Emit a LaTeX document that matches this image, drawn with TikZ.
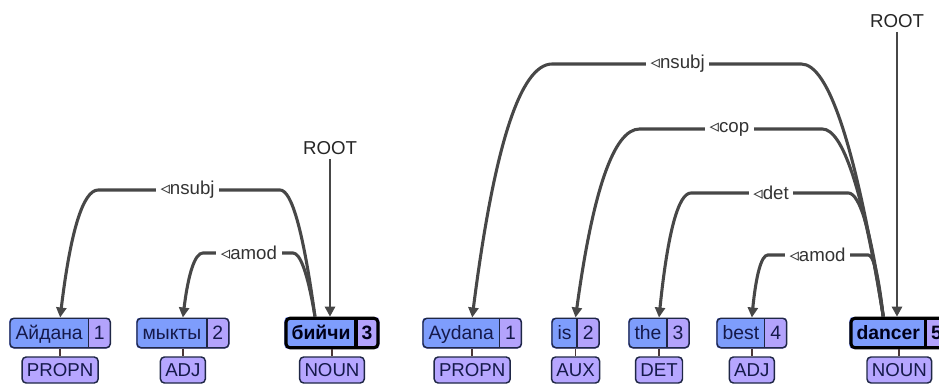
\documentclass[tikz,border=0pt]{standalone}
\usepackage{fontspec}
\setmainfont{Liberation Sans}
\newfontfamily\symfont{DejaVu Sans}
\usetikzlibrary{fit,calc,arrows.meta}

\definecolor{wordfill}{HTML}{7E9DFC}
\definecolor{numfill}{HTML}{B3A3FC}
\definecolor{posfill}{HTML}{B6A6FF}
\definecolor{framecol}{HTML}{1F2746}
\definecolor{inktext}{HTML}{15194A}
\definecolor{arcgray}{HTML}{474747}
\definecolor{stemcol}{HTML}{4B3838}

\pgfdeclarelayer{canvas}
\pgfdeclarelayer{fills}
\pgfsetlayers{canvas,fills,main}

\newcommand\lefttri{{\symfont ◃}}

\tikzset{
  x=0.75pt, y=-0.75pt,
  every node/.style={font=\fontsize{14}{16}\selectfont},
  tokpart/.style={font=\fontsize{14.5}{17}\selectfont, inner xsep=4pt, inner ysep=0pt,
    minimum height=21.75pt, text height=10.4pt, text depth=0pt, text=inktext},
  plaintok/.style={},
  roottok/.style={font=\fontsize{14.5}{17}\selectfont\bfseries, text=black!90!blue},
  plainframe/.style={draw=framecol, line width=1.1pt},
  rootframe/.style={draw=black, line width=2.3pt},
  tokframe/.style={rounded corners=3pt, inner sep=0pt},
  posbox/.style={draw=framecol, line width=1.1pt, fill=posfill, rounded corners=3pt,
    inner xsep=3.6pt, inner ysep=0pt, minimum height=19.5pt,
    text height=10pt, text depth=0pt, text=inktext},
  stem/.style={draw=stemcol, line width=1.3pt},
  deparc/.style={draw=arcgray, line width=2.3pt, -{Triangle[length=7.5pt,width=7.5pt]}},
  deplabel/.style={fill=white, inner xsep=3.5pt, inner ysep=1pt, text=black!80},
  rootlabel/.style={inner sep=3pt, text=black!85},
  rootline/.style={draw=arcgray, line width=2.1pt, -{Triangle[length=7.5pt,width=7.5pt]}},
}

% token box: #1 name, #2 left edge, #3 word, #4 index, #5 text style, #6 frame style
\newcommand\tok[6]{%
  \node[tokpart,#5,anchor=west] (#1w) at (#2,333) {#3};
  \node[tokpart,#5,anchor=west] (#1n) at (#1w.east) {#4};
  \node[tokframe,#6,fit=(#1w)(#1n)] (#1) {};
  \begin{pgfonlayer}{fills}
    \begin{scope}
      \clip[rounded corners=3pt] (#1.north west) rectangle (#1.south east);
      \fill[numfill] (#1.north west) rectangle (#1.south east);
      \fill[wordfill] (#1.north west) rectangle (#1w.south east);
    \end{scope}
  \end{pgfonlayer}
  \draw[#6] (#1n.north west) -- (#1n.south west);
}

\begin{document}
\begin{tikzpicture}
\begin{pgfonlayer}{canvas}
  \fill[white] (0,0) rectangle (939,385);
\end{pgfonlayer}
\useasboundingbox (0,0) rectangle (939,385);

\coordinate (posrow) at (0,370);

% Kyrgyz sentence
\tok{t1}{10}{Айдана}{1}{plaintok}{plainframe}
\tok{t2}{137}{мыкты}{2}{plaintok}{plainframe}
\tok{t3}{286}{бийчи}{3}{roottok}{rootframe}
% English sentence
\tok{t4}{423}{Aydana}{1}{plaintok}{plainframe}
\tok{t5}{552}{is}{2}{plaintok}{plainframe}
\tok{t6}{629}{the}{3}{plaintok}{plainframe}
\tok{t7}{717}{best}{4}{plaintok}{plainframe}
\tok{t8}{851}{dancer}{5}{roottok}{rootframe}

% part-of-speech tags
\foreach \t/\p in {t1/PROPN, t2/ADJ, t3/NOUN, t4/PROPN, t5/AUX, t6/DET, t7/ADJ, t8/NOUN}{
  \node[posbox] (\t pos) at (\t |- posrow) {\p};
  \draw[stem] (\t) -- (\t pos);
}

% arc feet at the heads and arc levels
\coordinate (h3) at ($(t3.north)+(-17,0)$);
\coordinate (h8) at ($(t8.north)+(-16,0)$);
\coordinate (L1) at (0,190);
\coordinate (L2) at (0,253);
\coordinate (R1) at (0,64);
\coordinate (R2) at (0,129);
\coordinate (R3) at (0,193);
\coordinate (R4) at (0,255);

% Kyrgyz arcs
\draw[deparc] (h3) .. controls +(-11.7,-85.7) and +(11.7,0) .. ($(h3|-L1)+(-35,0)$)
  -- ($(t1.north|-L1)+(38,0)$) .. controls +(-15.2,0) and +(10.3,-85.7) .. (t1.north);
\draw[deparc] (h3) .. controls +(-7.3,-43.7) and +(7.3,0) .. ($(h3|-L2)+(-22,0)$)
  -- ($(t2.north|-L2)+(20,0)$) .. controls +(-8,0) and +(5.4,-43.7) .. (t2.north);
\node[deplabel] (a1) at ($(h3|-L1)!0.5!(t1.north|-L1)$) {\lefttri nsubj};
\node[deplabel] (a2) at ($(h3|-L2)!0.5!(t2.north|-L2)$) {\lefttri amod};

% English arcs
\draw[deparc] (h8) .. controls +(-27.3,-170) and +(27.3,0) .. ($(h8|-R1)+(-82,0)$)
  -- ($(t4.north|-R1)+(80,0)$) .. controls +(-32,0) and +(21.6,-170) .. (t4.north);
\draw[deparc] (h8) .. controls +(-20.3,-127) and +(20.3,0) .. ($(h8|-R2)+(-61,0)$)
  -- ($(t5.north|-R2)+(64,0)$) .. controls +(-25.6,0) and +(17.3,-127) .. (t5.north);
\draw[deparc] (h8) .. controls +(-11.7,-84.3) and +(11.7,0) .. ($(h8|-R3)+(-35,0)$)
  -- ($(t6.north|-R3)+(32,0)$) .. controls +(-12.8,0) and +(8.6,-84.3) .. (t6.north);
\draw[deparc] (h8) .. controls +(-5,-43) and +(5,0) .. ($(h8|-R4)+(-15,0)$)
  -- ($(t7.north|-R4)+(16,0)$) .. controls +(-6.4,0) and +(4.3,-43) .. (t7.north);
\node[deplabel] (b1) at ($(h8|-R1)!0.5!(t4.north|-R1)$) {\lefttri nsubj};
\node[deplabel] (b2) at ($(h8|-R2)!0.5!(t5.north|-R2)$) {\lefttri cop};
\node[deplabel] (b3) at ($(h8|-R3)!0.5!(t6.north|-R3)$) {\lefttri det};
\node[deplabel] (b4) at ($(h8|-R4)!0.5!(t7.north|-R4)$) {\lefttri amod};

% roots
\node[rootlabel] (r3) at (330,148) {ROOT};
\draw[rootline] (r3) -- (r3 |- t3.north);
\node[rootlabel] (r8) at (897,21) {ROOT};
\draw[rootline] (r8) -- (r8 |- t8.north);
\end{tikzpicture}
\end{document}
